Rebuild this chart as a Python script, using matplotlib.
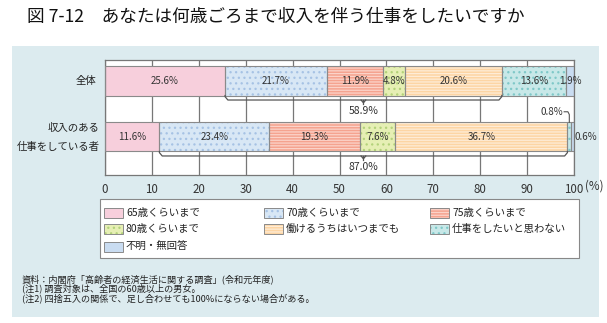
import matplotlib
matplotlib.use("Agg")
import matplotlib.pyplot as plt
from matplotlib.patches import Rectangle
import numpy as np

plt.rcParams['font.family'] = ['Noto Sans CJK JP', 'DejaVu Sans']
plt.rcParams['hatch.linewidth'] = 0.9

# ---- data ----
rows = ["全体", "収入のある\n仕事をしている者"]
categories = ["65歳くらいまで", "70歳くらいまで", "75歳くらいまで", "80歳くらいまで",
              "働けるうちはいつまでも", "仕事をしたいと思わない", "不明・無回答"]
total_values = [25.6, 21.7, 11.9, 4.8, 20.6, 13.6, 1.9]
employed_values = [11.6, 23.4, 19.3, 7.6, 36.7, 0.8, 0.6]
bracket_totals = ["58.9%", "87.0%"]
xticks = [0, 10, 20, 30, 40, 50, 60, 70, 80, 90, 100]

# ---- styles ----
faces = ["#f7cfdc", "#d8e7f5", "#f5a38f", "#e6efb4", "#fdd5a4", "#c8e8e8", "#c9dcf1"]
hatch_colors = [None, "#a6c2e4", "#fbd3c9", "#b3d27a", "#feecd6", "#7fc8c8", None]
hatches = [None, "...", "------", "...", "------", "...", None]

W, H = 607, 323
fig = plt.figure(figsize=(W / 100, H / 100), dpi=100)


def fx(px):
    return px / W


def fy(py):
    return 1 - py / H


# background panel
fig.patches.append(Rectangle((fx(12), fy(317)), fx(587), 271 / H,
                             transform=fig.transFigure, facecolor="#dcebef",
                             edgecolor="none", zorder=-10))

fig.text(fx(27), fy(17), "図 7-12　あなたは何歳ごろまで収入を伴う仕事をしたいですか",
         fontsize=12.7, va="center", ha="left", color="#111")

ax = fig.add_axes([fx(105), fy(175), 469 / W, 115 / H])
ax.set_zorder(5)
ax.set_facecolor("white")
ax.set_xlim(0, 100)
ax.set_ylim(1.68, -0.375)
bar_h = 0.52

for s in ax.spines.values():
    s.set_color("#777")
    s.set_linewidth(0.9)
ax.set_xticks(xticks)
ax.set_xticklabels([str(t) for t in xticks], fontsize=8.3, color="#333")
ax.tick_params(axis="x", length=0, pad=6)
ax.set_yticks([])
ax.xaxis.grid(True, color="#777", linewidth=0.9)
ax.set_axisbelow(True)

for r, vals in enumerate([total_values, employed_values]):
    left = np.concatenate([[0], np.cumsum(vals)[:-1]])
    for i, (v, l) in enumerate(zip(vals, left)):
        if hatches[i]:
            ax.barh(r, v, left=l, height=bar_h, color=faces[i],
                    edgecolor=hatch_colors[i], hatch=hatches[i], linewidth=0, zorder=2)
        else:
            ax.barh(r, v, left=l, height=bar_h, color=faces[i], linewidth=0, zorder=2)
        ax.barh(r, v, left=l, height=bar_h, fill=False, edgecolor="#8a8a8a",
                linewidth=0.8, zorder=3)
        if v >= 1:
            ax.text(l + v / 2, r, f"{v:.1f}%", ha="center", va="center",
                    fontsize=7, color="#333", zorder=4)

    # bracket under the 70歳〜働けるうちは segments
    x0 = left[1]
    x1 = left[4] + vals[4]
    yb = r + bar_h / 2
    yl = r + 0.34
    c = 0.6
    ax.plot([x0, x0, x0 + c, x1 - c, x1, x1],
            [yb, yl - 0.06, yl, yl, yl - 0.06, yb],
            color="#555", linewidth=0.9, zorder=3, clip_on=False,
            solid_joinstyle="round")
    xm = (x0 + x1) / 2
    ax.plot([xm - 0.5, xm, xm + 0.5], [yl, yl + 0.05, yl], color="#555",
            linewidth=0.9, zorder=3)
    ax.plot([xm, xm], [yl, yl + 0.07], color="#555", linewidth=0.9, zorder=3)
    ax.text(xm, yl + 0.2, bracket_totals[r], ha="center", va="center",
            fontsize=7.5, color="#333", zorder=4)

# small segments of the second row are labelled outside the bar
left2 = np.concatenate([[0], np.cumsum(employed_values)[:-1]])
c8 = left2[5] + employed_values[5] / 2
ax.text(97.7, 1 - 0.45, f"{employed_values[5]:.1f}%", ha="right", va="center",
        fontsize=7, color="#333", zorder=4)
ax.plot([97.9, c8 - 0.3, c8, c8], [0.55, 0.55, 0.6, 1 - bar_h / 2],
        color="#555", linewidth=0.8, zorder=4, clip_on=False)
ax.text(100.2, 1, f"{employed_values[6]:.1f}%", ha="left", va="center",
        fontsize=7, color="#333", zorder=4, clip_on=False)

fig.text(fx(585), fy(186), "(%)", fontsize=8.3, color="#333", ha="left", va="center")

# row labels
fig.text(fx(96), fy(81), rows[0], ha="right", va="center", fontsize=7.5, color="#222")
lab = rows[1].split("\n")
fig.text(fx(100), fy(128), lab[0], ha="right", va="center", fontsize=7.5, color="#222")
fig.text(fx(100), fy(147), lab[1], ha="right", va="center", fontsize=7.5, color="#222")

# legend box
fig.patches.append(Rectangle((fx(100), fy(258)), fx(479), 59 / H,
                             transform=fig.transFigure, facecolor="white",
                             edgecolor="#888", linewidth=0.8, zorder=1))
col_x = [104, 264, 430]
row_y = [213, 229, 247]
for i, name in enumerate(categories):
    px = col_x[i % 3]
    py = row_y[i // 3]
    kw = dict(transform=fig.transFigure, facecolor=faces[i], zorder=2, linewidth=0)
    if hatches[i]:
        kw.update(edgecolor=hatch_colors[i], hatch=hatches[i])
    fig.patches.append(Rectangle((fx(px), fy(py + 5)), fx(19), 10 / H, **kw))
    fig.patches.append(Rectangle((fx(px), fy(py + 5)), fx(19), 10 / H,
                                 transform=fig.transFigure, fill=False,
                                 edgecolor="#8a8a8a", linewidth=0.7, zorder=3))
    fig.text(fx(px + 22), fy(py), name, ha="left", va="center", fontsize=7.5,
             color="#222")

notes = ["資料：内閣府「高齢者の経済生活に関する調査」(令和元年度)",
         "(注1) 調査対象は、全国の60歳以上の男女。",
         "(注2) 四捨五入の関係で、足し合わせても100%にならない場合がある。"]
for k, t in enumerate(notes):
    fig.text(fx(22), fy(279 + 9.5 * k), t, ha="left", va="center", fontsize=6.6,
             color="#222")

fig.savefig("out.png", dpi=100)
